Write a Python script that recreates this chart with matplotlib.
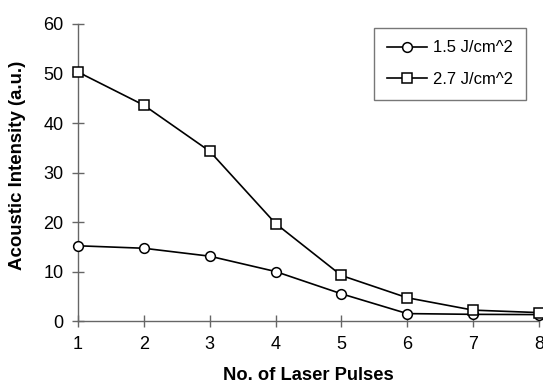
import matplotlib
matplotlib.use('Agg')
import matplotlib.pyplot as plt

pulses = [1, 2, 3, 4, 5, 6, 7, 8]
low_fluence = [15.2, 14.7, 13.1, 10.0, 5.5, 1.5, 1.35, 1.3]
high_fluence = [50.3, 43.6, 34.3, 19.7, 9.2, 4.7, 2.2, 1.7]
labels = ['1.5 J/cm^2', '2.7 J/cm^2']

plt.rcParams['font.family'] = ['Liberation Sans', 'DejaVu Sans']

fig = plt.figure(figsize=(5.43, 3.84), dpi=100)
ax = fig.add_axes([0.1436, 0.164, 0.849, 0.7735])

ax.plot(pulses, low_fluence, color='black', lw=1.2, marker='o', ms=7,
        mfc='white', mec='black', mew=1.1, label=labels[0], clip_on=False, zorder=3)
ax.plot(pulses, high_fluence, color='black', lw=1.2, marker='s', ms=7,
        mfc='white', mec='black', mew=1.1, label=labels[1], clip_on=False, zorder=3)

ax.set_xlim(1, 8)
ax.set_ylim(0, 60)
ax.set_xticks(pulses)
ax.set_yticks(range(0, 61, 10))

for side in ['top', 'right']:
    ax.spines[side].set_visible(False)
for side in ['left', 'bottom']:
    ax.spines[side].set_color('#666666')
    ax.spines[side].set_linewidth(1.0)
ax.tick_params(direction='inout', length=8, width=1.0, color='#666666',
               labelsize=13)
ax.tick_params(axis='x', pad=7)
ax.tick_params(axis='y', pad=6.5)

ax.set_xlabel('No. of Laser Pulses', fontsize=13.2, fontweight='bold', labelpad=10)
ax.set_ylabel('Acoustic Intensity (a.u.)', fontsize=13.4, fontweight='bold')
ax.yaxis.set_label_coords(-0.112, 0.525)

leg = ax.legend(loc='upper left', bbox_to_anchor=(374 / 543, 1 - 28 / 384),
                bbox_transform=fig.transFigure, fontsize=12, frameon=True,
                fancybox=False, edgecolor='#555555', borderpad=0.75,
                labelspacing=1.0, handlelength=2.4, handletextpad=0.4,
                borderaxespad=0)
leg.get_frame().set_linewidth(1.0)

fig.savefig('out.png', dpi=100)
